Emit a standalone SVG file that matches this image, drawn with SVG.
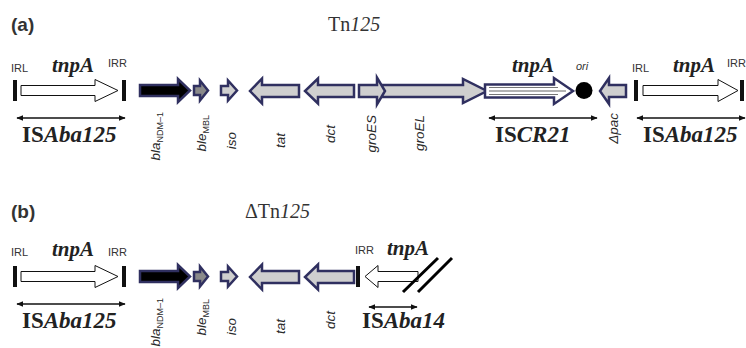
<svg xmlns="http://www.w3.org/2000/svg" width="746" height="348" viewBox="0 0 746 348">
<defs>
<marker id="ah" viewBox="0 0 10 10" refX="9" refY="5" markerWidth="7" markerHeight="7" orient="auto-start-reverse" markerUnits="userSpaceOnUse"><path d="M0,1 L10,5 L0,9 Z" fill="#111"/></marker>
</defs>
<style>
.panel{font-family:"Liberation Sans",Arial,sans-serif;font-weight:bold;font-size:19px;fill:#333}
.title{font-family:"Liberation Serif","Times New Roman",serif;font-size:20px;fill:#333}
.ir{font-family:"Liberation Sans",Arial,sans-serif;font-size:11px;fill:#333}
.tnp{font-family:"Liberation Serif","Times New Roman",serif;font-size:21px;font-weight:bold;font-style:italic;fill:#222}
.is{font-family:"Liberation Serif","Times New Roman",serif;font-size:23px;font-weight:bold;fill:#222}
.gl{font-family:"Liberation Sans",Arial,sans-serif;font-size:13.5px;font-style:italic;fill:#2a2a2a}
.sub{font-size:9px;font-style:normal}
.isa{fill:#fff;stroke:#111;stroke-width:1}
.gene{stroke:#303060;stroke-width:2.5;stroke-linejoin:miter}
.bar{fill:#111}
.span{stroke:#111;stroke-width:1.3;fill:none;marker-start:url(#ah);marker-end:url(#ah)}
</style>

<!-- Panel (a) -->
<text class="panel" x="11" y="31">(a)</text>
<text class="title" x="328" y="31">Tn<tspan font-style="italic">125</tspan></text>

<g id="a_ISAba125_left">
<rect class="bar" x="13" y="80" width="4" height="21"/>
<rect class="bar" x="122" y="80" width="4" height="21"/>
<path class="isa" d="M21,85.5 L95,85.5 L95,79.5 L118,90.5 L95,101.5 L95,95.5 L21,95.5 Z"/>
<text class="ir" x="11" y="72">IRL</text>
<text class="ir" x="108" y="67">IRR</text>
<text class="tnp" x="52" y="72">tnpA</text>
<text class="is" x="22" y="142">IS<tspan font-style="italic">Aba125</tspan></text>
</g>
<g id="a_bla">
<path class="gene" fill="#000" d="M140,85 L178,85 L178,79 L190,90.5 L178,102 L178,96 L140,96 Z"/>
<text class="gl" transform="translate(160,112) rotate(-90)" text-anchor="end">bla<tspan class="sub" dy="3">NDM–1</tspan></text>
</g>
<g id="a_ble">
<path class="gene" fill="#8a8a8a" d="M194,86 L200,86 L200,80.5 L208,90.5 L200,100.5 L200,95 L194,95 Z"/>
<text class="gl" transform="translate(206,115) rotate(-90)" text-anchor="end">ble<tspan class="sub" dy="3">MBL</tspan></text>
</g>
<g id="a_iso">
<path class="gene" fill="#cfcfcf" d="M221,86 L228,86 L228,80.5 L237,90.5 L228,100.5 L228,95 L221,95 Z"/>
<text class="gl" transform="translate(236,132) rotate(-90)" text-anchor="end">iso</text>
</g>
<g id="a_tat">
<path class="gene" fill="#cfcfcf" d="M299,85 L262,85 L262,78.5 L250,91 L262,103.5 L262,97 L299,97 Z"/>
<text class="gl" transform="translate(285,133) rotate(-90)" text-anchor="end">tat</text>
</g>
<g id="a_dct">
<path class="gene" fill="#cfcfcf" d="M354,85 L318,85 L318,78.5 L305,91 L318,103.5 L318,97 L354,97 Z"/>
<text class="gl" transform="translate(335,125) rotate(-90)" text-anchor="end">dct</text>
</g>
<g id="a_groEL">
<path class="gene" fill="#cfcfcf" d="M382,85 L463,85 L463,79 L487,91 L463,103 L463,97 L382,97 Z"/>
<text class="gl" transform="translate(424,115) rotate(-90)" text-anchor="end">groEL</text>
</g>
<g id="a_groES">
<path class="gene" fill="#cfcfcf" d="M359,85 L377,85 L377,77.5 L385,91 L377,104.5 L377,97 L359,97 Z"/>
<text class="gl" transform="translate(376,115) rotate(-90)" text-anchor="end">groES</text>
</g>
<g id="a_ISCR21">
<path class="gene" fill="#fff" d="M485,84.5 L554,84.5 L554,78 L573,91 L554,104 L554,97.5 L485,97.5 Z"/>
<path fill="none" stroke="#777" stroke-width="1" d="M489,87.5 L558,87.5 M489,94.5 L558,94.5"/>
<path fill="none" stroke="#999" stroke-width="1.6" d="M489,91 L566,91"/>
<text class="tnp" x="512" y="72">tnpA</text>
<text class="is" x="495" y="142">IS<tspan font-style="italic">CR21</tspan></text>
</g>
<g id="a_ori">
<circle cx="584" cy="90.5" r="8.5" fill="#000"/>
<text class="ir" font-style="italic" font-size="12" x="576" y="70">ori</text>
</g>
<g id="a_pac">
<path class="gene" fill="#cfcfcf" d="M626,85 L609,85 L609,78 L600,91 L609,104 L609,97 L626,97 Z"/>
<text class="gl" transform="translate(618,113) rotate(-90)" text-anchor="end">Δpac</text>
</g>
<g id="a_ISAba125_right">
<rect class="bar" x="634" y="80" width="4" height="21"/>
<rect class="bar" x="740" y="80" width="4" height="21"/>
<path class="isa" d="M643,85.5 L718,85.5 L718,79.5 L738,90.5 L718,101.5 L718,95.5 L643,95.5 Z"/>
<text class="ir" x="632" y="72">IRL</text>
<text class="ir" x="727" y="67">IRR</text>
<text class="tnp" x="673" y="72">tnpA</text>
<text class="is" x="643" y="142">IS<tspan font-style="italic">Aba125</tspan></text>
</g>

<!-- Panel (b) -->
<text class="panel" x="11" y="218">(b)</text>
<text class="title" x="245" y="218">ΔTn<tspan font-style="italic">125</tspan></text>

<g id="b_ISAba125">
<rect class="bar" x="13" y="266" width="4" height="21"/>
<rect class="bar" x="122" y="266" width="4" height="21"/>
<path class="isa" d="M21,271.5 L95,271.5 L95,265.5 L118,276.5 L95,287.5 L95,281.5 L21,281.5 Z"/>
<text class="ir" x="11" y="256">IRL</text>
<text class="ir" x="108" y="256">IRR</text>
<text class="tnp" x="52" y="256">tnpA</text>
<text class="is" x="22" y="328">IS<tspan font-style="italic">Aba125</tspan></text>
</g>
<g id="b_bla">
<path class="gene" fill="#000" d="M140,271 L178,271 L178,265 L190,276.5 L178,288 L178,282 L140,282 Z"/>
<text class="gl" transform="translate(160,298) rotate(-90)" text-anchor="end">bla<tspan class="sub" dy="3">NDM–1</tspan></text>
</g>
<g id="b_ble">
<path class="gene" fill="#8a8a8a" d="M194,272 L200,272 L200,266.5 L208,276.5 L200,286.5 L200,281 L194,281 Z"/>
<text class="gl" transform="translate(206,299) rotate(-90)" text-anchor="end">ble<tspan class="sub" dy="3">MBL</tspan></text>
</g>
<g id="b_iso">
<path class="gene" fill="#cfcfcf" d="M221,272 L228,272 L228,266.5 L237,276.5 L228,286.5 L228,281 L221,281 Z"/>
<text class="gl" transform="translate(236,318) rotate(-90)" text-anchor="end">iso</text>
</g>
<g id="b_tat">
<path class="gene" fill="#cfcfcf" d="M299,271 L262,271 L262,264.5 L250,277 L262,289.5 L262,283 L299,283 Z"/>
<text class="gl" transform="translate(285,319) rotate(-90)" text-anchor="end">tat</text>
</g>
<g id="b_dct">
<path class="gene" fill="#cfcfcf" d="M354,271 L318,271 L318,264.5 L305,277 L318,289.5 L318,283 L354,283 Z"/>
<text class="gl" transform="translate(335,311) rotate(-90)" text-anchor="end">dct</text>
</g>
<g id="b_ISAba14">
<rect class="bar" x="356" y="266" width="4" height="21"/>
<path class="isa" d="M418,271.5 L378,271.5 L378,265.5 L365,276.5 L378,287.5 L378,281.5 L418,281.5 Z"/>
<path stroke="#000" stroke-width="3" d="M403,292 L438,258 M418,292 L452,258"/>
<text class="ir" x="355" y="254">IRR</text>
<text class="tnp" x="387" y="255">tnpA</text>
<text class="is" x="362" y="328">IS<tspan font-style="italic">Aba14</tspan></text>
</g>

<g id="connectors">
<line class="span" x1="17" y1="118" x2="125" y2="118"/>
<line class="span" x1="489" y1="118" x2="597" y2="118"/>
<line class="span" x1="637" y1="118" x2="745" y2="118"/>
<line class="span" x1="17" y1="304" x2="125" y2="304"/>
<line class="span" x1="369" y1="307" x2="417" y2="307"/>
</g>
</svg>
